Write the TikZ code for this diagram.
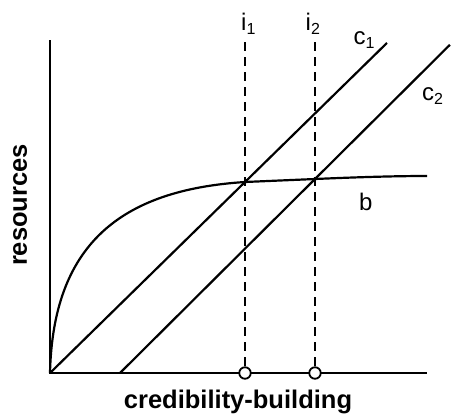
\documentclass[tikz,border=0pt]{standalone}
\usepackage{fontspec}
\setmainfont{Liberation Sans}
\usetikzlibrary{calc}
\newcommand\lowidx[1]{\raisebox{-4.5pt}{\fontsize{16}{18}\selectfont #1}}

\begin{document}
\begin{tikzpicture}[x=1pt,y=-1pt,
		curve/.style={line width=2.2pt},
		guide/.style={line width=2.2pt, dash pattern=on 8.5pt off 6.5pt},
		probe/.style={circle, draw, line width=1.8pt, fill=white, inner sep=0pt, minimum size=11.5pt},
		tag/.style={font=\fontsize{24}{28}\selectfont, inner sep=0pt, anchor=base west},
		axislabel/.style={font=\fontsize{25.5}{29}\bfseries\selectfont, inner sep=0pt, anchor=base}]
			%%%%% START %%%%%
			
			\useasboundingbox (0, 0) rectangle (452, 418);
			
			\coordinate (O) at (50, 373);
			\coordinate (C2start) at (120, 373);
			\coordinate (I1) at (245, 182);
			\coordinate (I2) at (315, 179);
			
			% axes
			\draw[curve] (50, 40) -- (O) -- (427, 373);
			
			% cost lines
			\draw[curve] (O) -- ($(O)!1.728!(I1)$);
			\draw[curve] (C2start) -- ($(C2start)!1.692!(I2)$);
			
			% benefit curve
			\draw[curve] (O) .. controls (53, 245) and (120, 190) .. (I1)
				.. controls (268, 181) and (292, 180) .. (I2)
				.. controls (350, 177.5) and (390, 176) .. (427, 176);
			
			% thresholds
			\node[probe] (p1) at (I1 |- O) {};
			\node[probe] (p2) at (I2 |- O) {};
			\draw[guide] (245, 42) -- (p1.north);
			\draw[guide] (315, 42) -- (p2.north);
			
			\node[tag] (i1) at (241, 30) {i\lowidx{1}};
			\node[tag] (i2) at (305.5, 30) {i\lowidx{2}};
			\node[tag] (c1) at (353.5, 44) {c\lowidx{1}};
			\node[tag] (c2) at (422, 100) {c\lowidx{2}};
			\node[tag] (b) at (359, 210) {b};
			
			\node[axislabel] (xl) at (238, 408) {credibility-building};
			\node[axislabel, rotate=90] (yl) at (27, 205) {resources};
			
			%%%%% END %%%%%
		\end{tikzpicture}
\end{document}
